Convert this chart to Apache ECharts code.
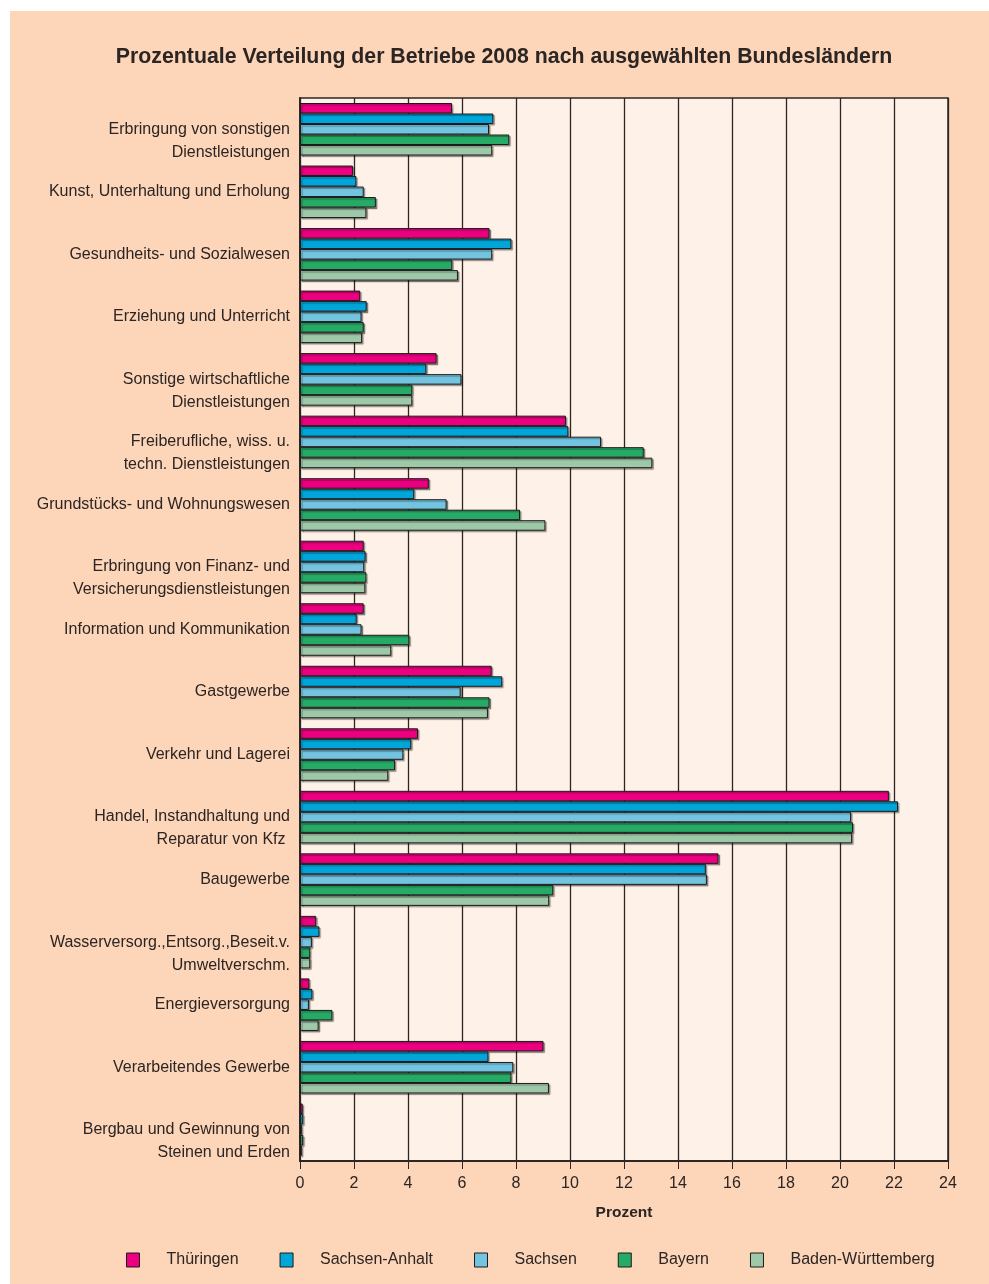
<!DOCTYPE html>
<html>
<head>
<meta charset="utf-8">
<title>Prozentuale Verteilung der Betriebe 2008</title>
<script src="https://cdn.jsdelivr.net/npm/echarts@6/dist/echarts.min.js"></script>
<style>
  html, body { margin: 0; padding: 0; background: #ffffff; }
  #chart { width: 989px; height: 1284px; }
</style>
</head>
<body>
<div id="chart"></div>
<script>
// Wirtschaftszweige, von oben nach unten
var categories = [
  'Erbringung von sonstigen\nDienstleistungen',
  'Kunst, Unterhaltung und Erholung',
  'Gesundheits- und Sozialwesen',
  'Erziehung und Unterricht',
  'Sonstige wirtschaftliche\nDienstleistungen',
  'Freiberufliche, wiss. u.\ntechn. Dienstleistungen',
  'Grundstücks- und Wohnungswesen',
  'Erbringung von Finanz- und\nVersicherungsdienstleistungen',
  'Information und Kommunikation',
  'Gastgewerbe',
  'Verkehr und Lagerei',
  'Handel, Instandhaltung und\nReparatur von Kfz ',
  'Baugewerbe',
  'Wasserversorg.,Entsorg.,Beseit.v.\nUmweltverschm.',
  'Energieversorgung',
  'Verarbeitendes Gewerbe',
  'Bergbau und Gewinnung von\nSteinen und Erden'
];

var laender = ['Thüringen', 'Sachsen-Anhalt', 'Sachsen', 'Bayern', 'Baden-Württemberg'];

// Anteile in Prozent
var thueringen    = [5.63, 1.96, 7.02, 2.23, 5.06, 9.85, 4.77, 2.36, 2.36, 7.10, 4.37, 21.81, 15.50, 0.60, 0.35, 9.02, 0.10];
var sachsenAnhalt = [7.16, 2.09, 7.83, 2.47, 4.68, 9.94, 4.23, 2.43, 2.10, 7.49, 4.12, 22.15, 15.03, 0.72, 0.46, 6.98, 0.12];
var sachsen       = [7.00, 2.36, 7.12, 2.28, 5.98, 11.15, 5.43, 2.38, 2.28, 5.95, 3.83, 20.41, 15.07, 0.44, 0.33, 7.90, 0.07];
var bayern        = [7.75, 2.81, 5.64, 2.36, 4.16, 12.73, 8.15, 2.46, 4.05, 7.02, 3.52, 20.48, 9.38, 0.38, 1.20, 7.83, 0.12];
var badenWuertt   = [7.12, 2.46, 5.85, 2.30, 4.16, 13.05, 9.09, 2.42, 3.38, 6.96, 3.27, 20.45, 9.23, 0.38, 0.69, 9.22, 0.07];

var xTicks = [0, 2, 4, 6, 8, 10, 12, 14, 16, 18, 20, 22, 24];

var colors = ['#ec0080', '#00a5d9', '#72c4e0', '#26ab67', '#9ec9a9'];
var lineColor = '#2e2624';
var textColor = '#2b2523';
var font = '"Liberation Sans", Arial, sans-serif';

function makeSeries(name, data, color) {
  return {
    name: name,
    type: 'bar',
    data: data,
    barGap: '0%',
    barCategoryGap: '16%',
    itemStyle: {
      color: color,
      borderColor: '#1e1a1a',
      borderWidth: 1,
      shadowColor: 'rgba(0,0,0,0.35)',
      shadowOffsetX: 1.5,
      shadowOffsetY: 1.5,
      shadowBlur: 1
    },
    emphasis: { disabled: true },
    animation: false
  };
}

// zweizeilige Beschriftung: erste Zeile auf Höhe der Gruppenmitte
function labelFormatter(value) {
  return value.indexOf('\n') >= 0 ? '\n' + value : value;
}

function setOption(chart) {
  var allData = [thueringen, sachsenAnhalt, sachsen, bayern, badenWuertt];
  var series = laender.map(function (name, i) {
    return makeSeries(name, allData[i], colors[i]);
  });

  var option = {
    backgroundColor: '#ffffff',
    animation: false,
    graphic: [{
      // pfirsichfarbene Fläche hinter allem
      type: 'rect',
      z: -10,
      shape: { x: 10, y: 11, width: 979, height: 1273 },
      style: { fill: '#fdd5b9' }
    }],
    title: {
      text: 'Prozentuale Verteilung der Betriebe 2008 nach ausgewählten Bundesländern',
      left: 499,
      top: 42,
      textAlign: 'center',
      textStyle: { fontFamily: font, fontSize: 21.3, fontWeight: 'bold', color: textColor }
    },
    legend: {
      data: laender,
      left: 126,
      top: 1252,
      padding: 0,
      itemWidth: 13,
      itemHeight: 14,
      itemGap: 41,
      icon: 'rect',
      itemStyle: { borderColor: '#1e1a1a', borderWidth: 1, shadowBlur: 0, shadowOffsetX: 0, shadowOffsetY: 0 },
      textStyle: { fontFamily: font, fontSize: 16, color: textColor, padding: [0, 0, 0, 22] }
    },
    grid: {
      left: 300,
      right: 41,
      top: 98,
      bottom: 123,
      show: true,
      backgroundColor: '#fef1e7',
      borderColor: lineColor,
      borderWidth: 1.5
    },
    xAxis: {
      type: 'value',
      min: xTicks[0],
      max: xTicks[xTicks.length - 1],
      interval: 2,
      name: 'Prozent',
      nameLocation: 'middle',
      nameGap: 44,
      nameTextStyle: { fontFamily: font, fontSize: 15.5, fontWeight: 'bold', color: textColor },
      axisLine: { show: true, lineStyle: { color: lineColor, width: 2 } },
      axisTick: { show: true, length: 8, inside: false, lineStyle: { color: lineColor, width: 1 } },
      axisLabel: { margin: 15, fontFamily: font, fontSize: 16, color: textColor },
      splitLine: { show: true, lineStyle: { color: lineColor, width: 1.3 } }
    },
    yAxis: {
      type: 'category',
      data: categories,
      inverse: true,
      axisLine: { show: true, lineStyle: { color: lineColor, width: 2 } },
      axisTick: { show: false },
      axisLabel: {
        margin: 10,
        fontFamily: font,
        fontSize: 16,
        lineHeight: 23,
        color: textColor,
        align: 'right',
        formatter: labelFormatter
      },
      splitLine: { show: false }
    },
    series: series
  };

  chart.setOption(option);
  return chart;
}

var chart = echarts.init(document.getElementById('chart'), null, { renderer: 'canvas' });
setOption(chart);
</script>
</body>
</html>
